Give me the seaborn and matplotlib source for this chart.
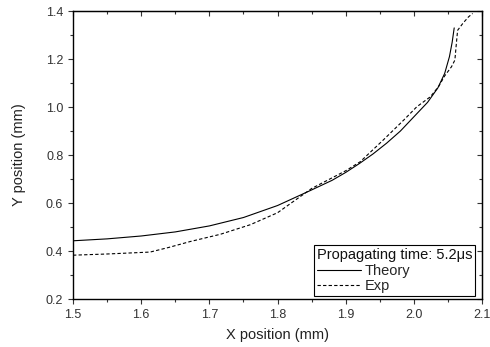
import pandas as pd
import matplotlib
matplotlib.use('Agg')
import matplotlib.pyplot as plt
import seaborn as sns
from matplotlib.ticker import MultipleLocator

# Theory curve
theory_x = [1.500, 1.550, 1.600, 1.650, 1.700, 1.750, 1.800, 1.850, 1.880, 1.900,
            1.920, 1.940, 1.960, 1.980, 2.000, 2.020, 2.035, 2.045, 2.052, 2.056, 2.059]
theory_y = [0.443, 0.451, 0.463, 0.480, 0.505, 0.540, 0.590, 0.655, 0.695, 0.728,
            0.765, 0.805, 0.850, 0.900, 0.960, 1.020, 1.080, 1.140, 1.210, 1.270, 1.330]

# Experimental curve
exp_x = [1.500, 1.550, 1.613, 1.640, 1.672, 1.716, 1.760, 1.800, 1.850, 1.900,
         1.921, 1.955, 1.985, 2.004, 2.024, 2.036, 2.045, 2.055, 2.060, 2.062,
         2.064, 2.072, 2.080, 2.086]
exp_y = [0.383, 0.388, 0.396, 0.415, 0.440, 0.470, 0.510, 0.560, 0.661, 0.735,
         0.772, 0.863, 0.946, 1.001, 1.043, 1.085, 1.130, 1.168, 1.196, 1.260,
         1.320, 1.350, 1.376, 1.390]

legend_title = 'Propagating time: 5.2\u03bcs'

df = pd.concat([
    pd.DataFrame({'x': theory_x, 'y': theory_y, 'series': 'Theory'}),
    pd.DataFrame({'x': exp_x, 'y': exp_y, 'series': 'Exp'}),
], ignore_index=True)

sns.set_style('ticks')
plt.rcParams['font.family'] = ['Liberation Sans', 'DejaVu Sans']

fig = plt.figure(figsize=(4.9, 3.47), dpi=100)
ax = fig.add_axes([0.149, 0.138, 0.835, 0.830])

sns.lineplot(data=df, x='x', y='y', hue='series', style='series',
             palette={'Theory': 'black', 'Exp': 'black'},
             dashes={'Theory': '', 'Exp': (3, 2)},
             sort=False, estimator=None, linewidth=0.8, ax=ax)

ax.set_xlim(1.5, 2.1)
ax.set_ylim(0.2, 1.4)
for axis, major, minor in [(ax.xaxis, 0.1, 0.05), (ax.yaxis, 0.2, 0.1)]:
    axis.set_major_locator(MultipleLocator(major))
    axis.set_minor_locator(MultipleLocator(minor))

# bottom/left ticks point outward
ax.tick_params(which='both', direction='out', labelsize=9, colors='#333333', width=0.8)
ax.tick_params(which='major', length=3.5)
ax.tick_params(which='minor', length=2)

# mirrored top/right ticks point inward
top = ax.secondary_xaxis('top')
right = ax.secondary_yaxis('right')
top.xaxis.set_major_locator(MultipleLocator(0.1))
top.xaxis.set_minor_locator(MultipleLocator(0.05))
right.yaxis.set_major_locator(MultipleLocator(0.2))
right.yaxis.set_minor_locator(MultipleLocator(0.1))
for sec in (top, right):
    sec.tick_params(which='both', direction='in', labeltop=False, labelright=False,
                    labelbottom=False, labelleft=False, width=0.8, colors='#333333')
    sec.tick_params(which='major', length=3.5)
    sec.tick_params(which='minor', length=2)

for s in ax.spines.values():
    s.set_linewidth(1.0)
    s.set_color('black')

ax.set_xlabel('X position (mm)', fontsize=10.5, color='#222222')
ax.set_ylabel('Y position (mm)', fontsize=10.5, color='#222222')
ax.xaxis.set_label_coords(0.5, -0.10)
ax.yaxis.set_label_coords(-0.115, 0.5)

handles, labels = ax.get_legend_handles_labels()
leg = ax.legend(handles, labels, title=legend_title, loc='lower right',
                bbox_to_anchor=(0.983, 0.01), fontsize=10.5, title_fontsize=10.5,
                frameon=True, fancybox=False, edgecolor='black', framealpha=1,
                handlelength=3.0, handletextpad=0.3, borderpad=0.2,
                labelspacing=0.1, borderaxespad=0.0, alignment='left')
leg.get_frame().set_linewidth(0.8)
leg.get_title().set_color('#111111')

plt.savefig('out.png', dpi=100)
